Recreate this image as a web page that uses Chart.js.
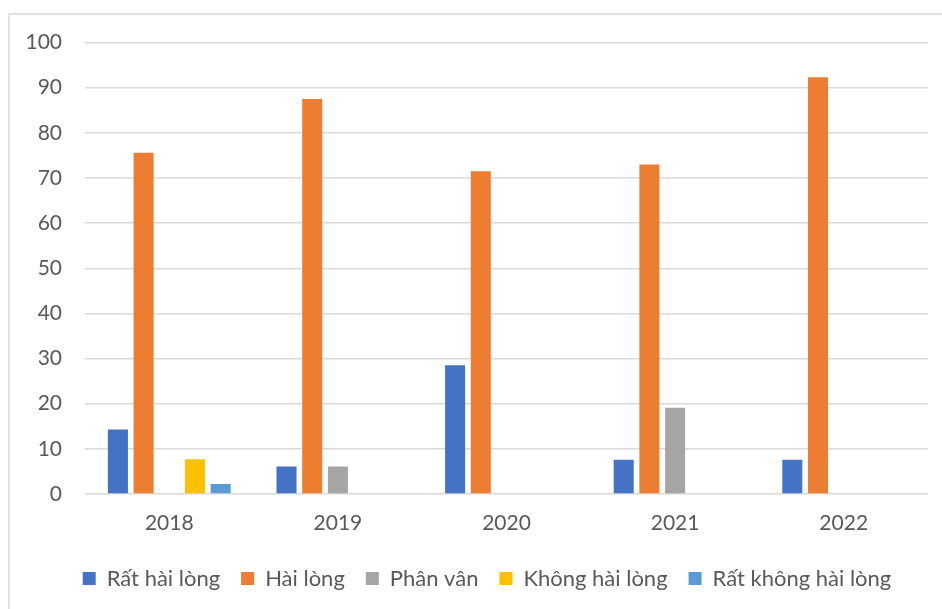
<!DOCTYPE html>
<html>
<head>
<meta charset="utf-8">
<script src="https://cdn.jsdelivr.net/npm/chart.js@4/dist/chart.umd.min.js"></script>
<style>
  html, body { margin: 0; padding: 0; background: #fff; }
  #wrap { position: relative; width: 942px; height: 609px; overflow: hidden; }
  #frame { position: absolute; left: 8px; top: 13px; width: 1000px; height: 1000px;
           border: 2px solid #e2e2e2; box-sizing: border-box; }
  #box { position: absolute; left: 0; top: 0; width: 942px; height: 609px; }
</style>
</head>
<body>
<div id="wrap">
  <div id="frame"></div>
  <div id="box"><canvas id="c"></canvas></div>
</div>
<script>
// Survey years
const years = ['2018', '2019', '2020', '2021', '2022'];

// Satisfaction levels (%), one array per answer
const ratHaiLong      = [14.3, 6.1, 28.5, 7.6, 7.6];
const haiLong         = [75.6, 87.5, 71.5, 73.0, 92.3];
const phanVan         = [0, 6.1, 0, 19.1, 0];
const khongHaiLong    = [7.7, 0, 0, 0, 0];
const ratKhongHaiLong = [2.2, 0, 0, 0, 0];

const seriesNames = ['Rất hài lòng', 'Hài lòng', 'Phân vân', 'Không hài lòng', 'Rất không hài lòng'];
const seriesColors = ['#4472C4', '#ED7D31', '#A5A5A5', '#FFC000', '#5B9BD5'];
const seriesData = [ratHaiLong, haiLong, phanVan, khongHaiLong, ratKhongHaiLong];

const FONT = 'Lato, "Open Sans", sans-serif';
const TEXT = '#595959';

// Centre the legend under the plot area rather than the whole canvas
const legendUnderPlot = {
  id: 'legendUnderPlot',
  afterLayout(chart) {
    const lg = chart.legend;
    if (!lg) return;
    const shift = 38;
    lg.left += shift;
    lg.width = lg.right - lg.left;
  }
};

new Chart(document.getElementById('c'), {
  type: 'bar',
  data: {
    labels: years,
    datasets: seriesData.map((d, i) => ({
      label: seriesNames[i],
      data: d,
      backgroundColor: seriesColors[i],
      borderWidth: 0,
      categoryPercentage: 0.762,
      barPercentage: 0.78
    }))
  },
  plugins: [legendUnderPlot],
  options: {
    responsive: true,
    maintainAspectRatio: false,
    animation: false,
    layout: { padding: { left: 8, right: 14, top: 42.5, bottom: 9.5 } },
    plugins: {
      tooltip: { enabled: false },
      legend: {
        position: 'bottom',
        labels: {
          boxWidth: 13,
          boxHeight: 13,
          padding: 21,
          color: TEXT,
          font: { family: FONT, size: 22 }
        }
      }
    },
    scales: {
      x: {
        grid: { display: false, drawTicks: false },
        border: { display: false },
        ticks: { color: TEXT, font: { family: FONT, size: 21 }, padding: 17 },
        afterFit: (s) => { s.height = 52.5; }
      },
      y: {
        min: 0,
        max: 100,
        grid: { color: '#d9d9d9', lineWidth: 1.5, drawTicks: false },
        border: { display: false },
        ticks: { stepSize: 10, color: TEXT, font: { family: FONT, size: 21 }, padding: 23 },
        afterFit: (s) => { s.width = 77; }
      }
    }
  }
});
</script>
</body>
</html>
